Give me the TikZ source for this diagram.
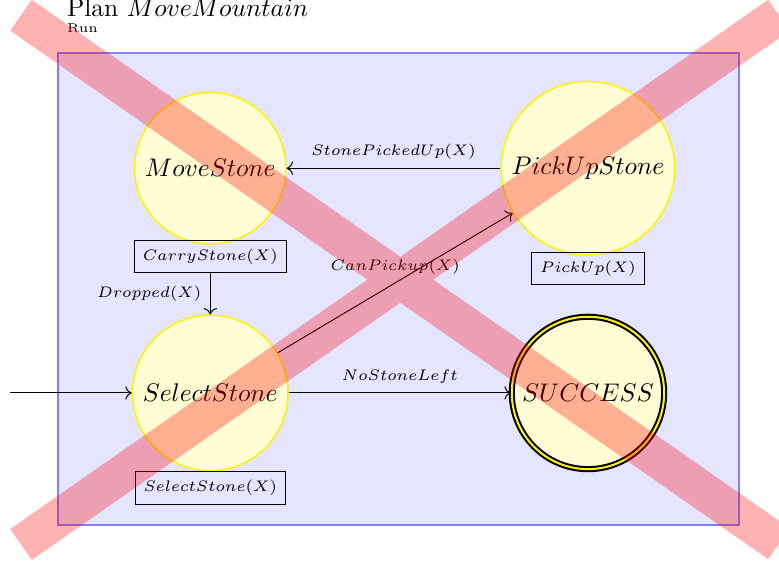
\documentclass[tikz,border=0pt]{standalone}
\usepackage{amsmath}
\usepackage{amssymb}
\usetikzlibrary{arrows.meta}
\usepackage{xcolor}

\begin{document}
\begin{tikzpicture}[xscale=1, yscale=1, >=To,
    state/.style={circle, draw=yellow, semithick, fill=yellow!17, minimum size=2.0cm},
    final/.style={circle, draw=black, double=yellow, double distance=0.8pt, line width=0.8pt, fill=yellow!17, minimum size=1.93cm},
    action/.style={rectangle, draw=black, font=\fontsize{6.3}{7}\selectfont},
    lbl/.style={font=\fontsize{6.3}{7}\selectfont}]
        \useasboundingbox (0,0) rectangle (10.745,-7.779);
        % plan frame
        \fill [blue!10] (0.80,-0.73) rectangle (10.19,-7.24);
        \draw [blue!50, thick] (0.80,-0.73) rectangle (10.19,-7.24);
        \node [anchor=west] (plan) at (0.80,-0.11) {Plan $MoveMountain$};
        \node [anchor=west, font=\tiny] (run) at (0.80,-0.39) {Run};
        \node [state] (move) at (2.90,-2.32) {$MoveStone$};
        \node [state] (pickup) at (8.11,-2.32) {$PickUpStone$};
        \node [state] (select) at (2.90,-5.42) {$SelectStone$};
        \node [final] (success) at (8.11,-5.42) {$SUCCESS$};
        \node [action] (carry) at (2.90,-3.54) {$CarryStone(X)$};
        \node [action] (pick) at (8.11,-3.70) {$PickUp(X)$};
        \node [action] (sel) at (2.90,-6.73) {$SelectStone(X)$};
        \coordinate (start) at (0.14,-5.42);
        \draw [thin, ->] (start) -- (select);
        \draw [thin, ->] (pickup) -- node [above, lbl] {$StonePickedUp(X)$} (move);
        \draw [thin, ->] (carry) -- node [left, lbl] {$Dropped(X)$} (select);
        \draw [thin, ->] (select) -- node [above, lbl] {$CanPickup(X)$} (pickup);
        \draw [thin, ->] (select) -- node [above, lbl] {$NoStoneLeft$} (success);
        % crossed out
        \draw [red, opacity=0.3, line width=0.52cm] (0.29,-0.21) -- (10.745,-7.50)
              (0.29,-7.51) -- (10.745,-0.21);
\end{tikzpicture}
\end{document}
